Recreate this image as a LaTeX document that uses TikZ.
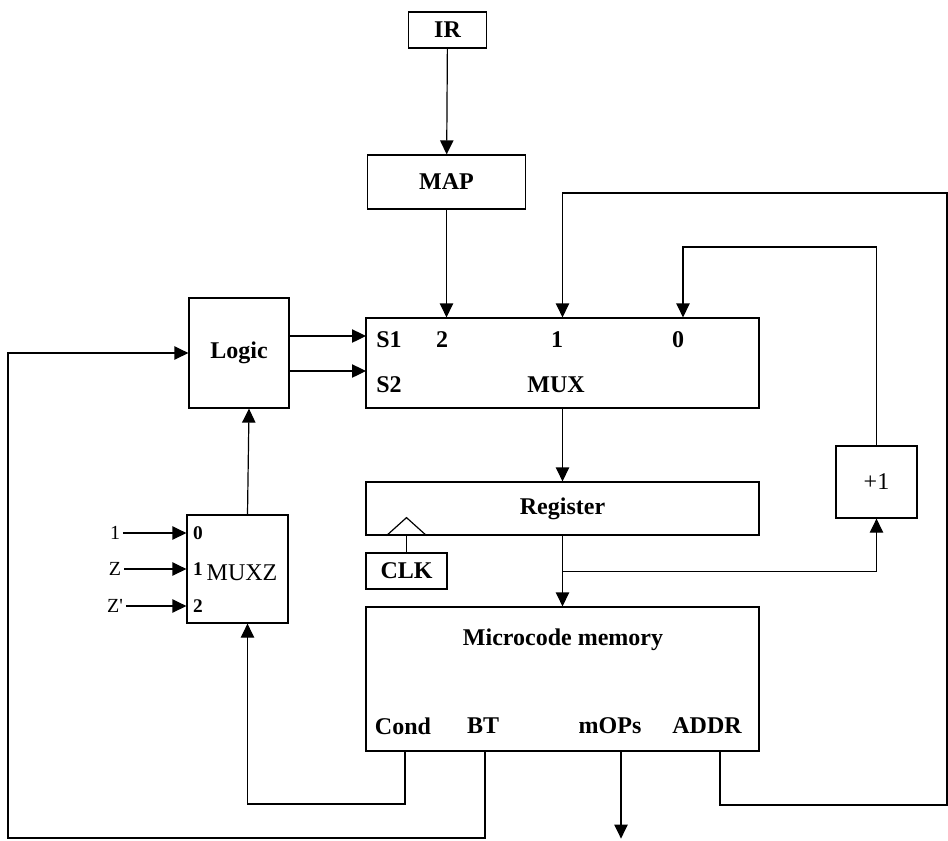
\documentclass[tikz,border=0pt]{standalone}
\usepackage{fontspec}
\setmainfont{Liberation Serif}
\usetikzlibrary{arrows.meta}
\tikzset{
  blk/.style={draw, line width=0.9pt, inner sep=0pt, font=\fontsize{18}{21}\selectfont\bfseries},
  lbl/.style={inner sep=1pt, font=\fontsize{18}{21}\selectfont\bfseries},
  rmlbl/.style={inner sep=1pt, font=\fontsize{18}{21}\selectfont},
  pin/.style={inner sep=1pt, font=\fontsize{14.5}{16}\selectfont\bfseries},
  inlbl/.style={inner sep=2pt, font=\fontsize{15}{17}\selectfont},
  wire/.style={line width=0.9pt},
  arr/.style={line width=0.9pt, -{Triangle[length=10.5pt,width=10pt]}},
}
\begin{document}
\begin{tikzpicture}[x=0.75pt,y=-0.75pt]
  \useasboundingbox (0,0) rectangle (948,840);
  % blocks
  \node[blk, minimum width=59pt, minimum height=27pt] (ir) at (447.5,30) {IR};
  \node[blk, minimum width=119pt, minimum height=40.5pt] (map) at (446.5,182) {MAP};
  \node[blk, minimum width=75pt, minimum height=82.5pt] (logic) at (239,353) {Logic};
  \node[blk, minimum width=294.75pt, minimum height=67.5pt] (mux) at (562.5,363) {};
  \node[blk, minimum width=294.75pt, minimum height=39.75pt] (reg) at (562.5,508.5) {Register};
  \node[blk, minimum width=60.75pt, minimum height=27pt] (clk) at (406.5,571) {CLK};
  \node[blk, font=\fontsize{18}{21}\selectfont, minimum width=60.75pt, minimum height=54pt] (inc) at (876.5,482) {+1};
  \node[blk, minimum width=75.75pt, minimum height=81pt] (muxz) at (237.5,569) {};
  \node[blk, minimum width=294.75pt, minimum height=108pt] (mem) at (562.5,679) {};

  % labels in the blocks
  \node[lbl] (s1) at (389,340) {S1};
  \node[lbl] (s2) at (389,385) {S2};
  \node[lbl] (sel2) at (442,340) {2};
  \node[lbl] (sel1) at (557,340) {1};
  \node[lbl] (sel0) at (678,340) {0};
  \node[lbl] (muxname) at (556,385) {MUX};
  \node[lbl] (memname) at (563,640) {Microcode memory};
  \node[lbl] (cond) at (403,726) {Cond};
  \node[lbl] (bt) at (483,726) {BT};
  \node[lbl] (mops) at (610,726) {mOPs};
  \node[lbl] (addr) at (707,726) {ADDR};
  \node[rmlbl] (muxzname) at (242,573) {MUXZ};

  % MUXZ inputs
  \foreach \y/\txt/\num [count=\i] in {533/1/0, 569/Z/1, 606/Z\textquotesingle/2} {
    \node[inlbl] (zin\i) at (115,\y) {\txt};
    \node[pin] (zpin\i) at (198,\y) {\num};
    \draw[arr] (zin\i.east) -- (zin\i -| muxz.west);
  }

  % points on the blocks
  \coordinate (selin1) at (366,336);
  \coordinate (selin2) at (366,371);
  \path (mem.south) ++(-157.5,0) coordinate (condout);
  \path (mem.south) ++(-77.5,0) coordinate (btout);
  \path (mem.south) ++(58.5,0) coordinate (mopsout);
  \path (mem.south) ++(157.5,0) coordinate (addrout);
  \path (reg.south) ++(0,36) coordinate (tap);
  \path (clk.north |- reg.south) coordinate (clkbase);
  \coordinate (zeroturn) at (683,247);
  \coordinate (topcorner) at (947,193);
  \coordinate (addrcorner) at (947,805);
  \coordinate (condturn) at (405,804);
  \coordinate (lowleft) at (8,838);

  % connectors
  \draw[arr] (ir) -- (map);
  \draw[arr] (map) -- (map |- mux.north);
  \draw[arr] (mux) -- (reg);
  \draw[arr] (reg) -- (mem);
  \draw[arr] (tap) -| (inc);
  \draw[arr] (inc) |- (zeroturn) -- (zeroturn |- mux.north);
  \draw[arr] (addrout) |- (addrcorner) -- (topcorner) -| (mux.north);
  \draw[arr] (logic.east |- selin1) -- (selin1);
  \draw[arr] (logic.east |- selin2) -- (selin2);
  \draw[arr] ([xshift=7.5pt]muxz.north) -- ([xshift=7.5pt]logic.south);
  \draw[arr] (condout) -- (condturn) -| ([xshift=7.5pt]muxz.south);
  \draw[arr] (btout) |- (lowleft) |- (logic.west);
  \draw[arr] (mopsout) -- ++(0,87);

  % clock input
  \draw[wire] (clkbase) ++(-15pt,0) -- ++(15pt,13.5pt) -- ++(15pt,-13.5pt);
  \draw[wire] (clk) -- (clkbase);
\end{tikzpicture}
\end{document}
